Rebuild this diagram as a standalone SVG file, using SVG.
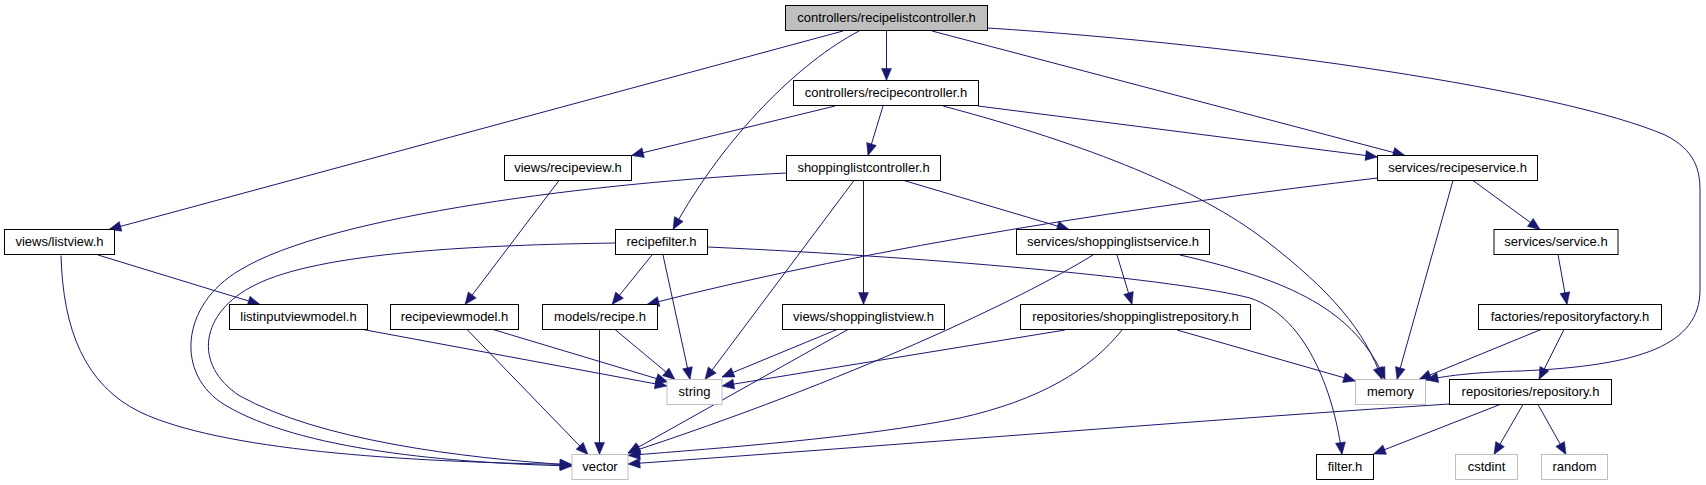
<svg xmlns="http://www.w3.org/2000/svg" width="1706" height="485" viewBox="0 0 1706 485">
<style>
.node rect{fill:#ffffff;stroke:#000000;stroke-width:1}
.node.ext rect{stroke:#bfbfbf}
.node.root rect{fill:#bfbfbf}
.node text{font-family:"Liberation Sans",Arial,sans-serif;font-size:13px;text-anchor:middle;fill:#000000}
.edges path{fill:none;stroke:#191970;stroke-width:1;marker-end:url(#arr)}
</style>
<defs>
<marker id="arr" markerUnits="userSpaceOnUse" markerWidth="12" markerHeight="10" refX="12" refY="5" orient="auto" overflow="visible">
<path d="M0,0 L12,5 L0,10 z" fill="#191970" stroke="#191970" stroke-width="0.5"/>
</marker>
</defs>
<rect x="0" y="0" width="1706" height="485" fill="#ffffff"/>
<g class="edges" id="edges">
<path d="M843,31 L109,229.5"/>
<path d="M859,31 C800,62 725,135 673,229.5"/>
<path d="M886.5,31 L886.5,80.5"/>
<path d="M932,31 L1405,155.5"/>
<path d="M988,28 C1250,45 1560,90 1665,135 C1695,150 1700,170 1700,190 L1700,290 C1700,345 1640,366 1520,371 C1480,372 1450,375 1426,380"/>
<path d="M835,106 L631.5,155.5"/>
<path d="M883,106 L868,155.5"/>
<path d="M978,106 L1377.5,157"/>
<path d="M943,106 C1090,145 1200,190 1265,240 C1330,290 1365,330 1382,379.5"/>
<path d="M786.5,173 C600,182 330,215 240,270 C180,305 175,375 225,405 C300,450 450,463 572,466"/>
<path d="M615.5,243 C480,245 320,252 255,285 C200,312 192,365 240,396 C320,440 460,458 572,465"/>
<path d="M61,255.5 C63,330 85,385 140,412 C220,450 400,462 572,464.5"/>
<path d="M854,180.5 L705,379.5"/>
<path d="M863.5,180.5 L863.5,304.5"/>
<path d="M904,180.5 L1069,229.5"/>
<path d="M559,180.5 L465,304.5"/>
<path d="M98,255 L260,304.5"/>
<path d="M652,255 L612,304.5"/>
<path d="M663,255 L690,379.5"/>
<path d="M707.5,247 C950,258 1180,280 1250,298 C1310,318 1335,400 1342,454.5"/>
<path d="M1377.5,178 C1150,205 880,245 647,304.5"/>
<path d="M1473,180.5 L1540,229.5"/>
<path d="M1453,180.5 L1397,379.5"/>
<path d="M1117,255 L1132,304.5"/>
<path d="M1180,255 C1290,280 1355,310 1385,379.5"/>
<path d="M1093,255 C1020,300 850,380 628,453"/>
<path d="M1065,330 L722,386"/>
<path d="M1177,330 L1355.5,381"/>
<path d="M1122,330 C1090,370 1040,400 960,418 C860,438 720,448 628,455.5"/>
<path d="M1449.5,404 C1200,420 900,445 628,464"/>
<path d="M1500,404.5 L1373.5,454"/>
<path d="M1523,404.5 L1494,454.5"/>
<path d="M1538,404.5 L1566,454.5"/>
<path d="M1541,329.5 L1419,379.5"/>
<path d="M1564,329.5 L1539,379.5"/>
<path d="M1558,254.5 L1567,304.5"/>
<path d="M615,329.5 L675,379.5"/>
<path d="M599.5,329.5 L599.5,454.5"/>
<path d="M363,329.5 L667,386"/>
<path d="M493,329.5 L668,382"/>
<path d="M467,329.5 L588,454.5"/>
<path d="M837,329.5 L722,377"/>
<path d="M848,329.5 L628,453"/>
</g>
<g class="node root" id="n_recipelistcontroller"><rect x="785.5" y="5.5" width="202" height="25"/><text x="886.5" y="22">controllers/recipelistcontroller.h</text></g>
<g class="node" id="n_recipecontroller"><rect x="793.5" y="80.5" width="185" height="25"/><text x="886" y="97">controllers/recipecontroller.h</text></g>
<g class="node" id="n_recipeview"><rect x="504.5" y="155.5" width="127" height="25"/><text x="568" y="172">views/recipeview.h</text></g>
<g class="node" id="n_shoppinglistcontroller"><rect x="786.5" y="155.5" width="154" height="25"/><text x="863.5" y="172">shoppinglistcontroller.h</text></g>
<g class="node" id="n_recipeservice"><rect x="1377.5" y="155.5" width="160" height="25"/><text x="1457.5" y="172">services/recipeservice.h</text></g>
<g class="node" id="n_listview"><rect x="4.5" y="229.5" width="110" height="25"/><text x="59.5" y="246">views/listview.h</text></g>
<g class="node" id="n_recipefilter"><rect x="615.5" y="229.5" width="92" height="25"/><text x="661.5" y="246">recipefilter.h</text></g>
<g class="node" id="n_shoppinglistservice"><rect x="1016.5" y="229.5" width="193" height="25"/><text x="1113" y="246">services/shoppinglistservice.h</text></g>
<g class="node" id="n_service"><rect x="1494" y="229.5" width="124" height="25"/><text x="1556" y="246">services/service.h</text></g>
<g class="node" id="n_listinputviewmodel"><rect x="229.5" y="304.5" width="138" height="25"/><text x="298.5" y="321">listinputviewmodel.h</text></g>
<g class="node" id="n_recipeviewmodel"><rect x="390.5" y="304.5" width="128" height="25"/><text x="454.5" y="321">recipeviewmodel.h</text></g>
<g class="node" id="n_recipe"><rect x="542.5" y="304.5" width="115" height="25"/><text x="600" y="321">models/recipe.h</text></g>
<g class="node" id="n_shoppinglistview"><rect x="782.5" y="304.5" width="162" height="25"/><text x="863.5" y="321">views/shoppinglistview.h</text></g>
<g class="node" id="n_shoppinglistrepository"><rect x="1020.5" y="304.5" width="230" height="25"/><text x="1135.5" y="321">repositories/shoppinglistrepository.h</text></g>
<g class="node" id="n_repositoryfactory"><rect x="1478.5" y="304.5" width="183" height="25"/><text x="1570" y="321">factories/repositoryfactory.h</text></g>
<g class="node ext" id="n_string"><rect x="667" y="379.5" width="55" height="25"/><text x="694.5" y="396">string</text></g>
<g class="node ext" id="n_memory"><rect x="1355.5" y="379.5" width="70" height="25"/><text x="1390.5" y="396">memory</text></g>
<g class="node" id="n_repository"><rect x="1449.5" y="379.5" width="162" height="25"/><text x="1530.5" y="396">repositories/repository.h</text></g>
<g class="node ext" id="n_vector"><rect x="572" y="454.5" width="56" height="25"/><text x="600" y="471">vector</text></g>
<g class="node" id="n_filter"><rect x="1316.5" y="454.5" width="57" height="25"/><text x="1345" y="471">filter.h</text></g>
<g class="node ext" id="n_cstdint"><rect x="1455.5" y="454.5" width="62" height="25"/><text x="1486.5" y="471">cstdint</text></g>
<g class="node ext" id="n_random"><rect x="1541.5" y="454.5" width="66" height="25"/><text x="1574.5" y="471">random</text></g>
</svg>
